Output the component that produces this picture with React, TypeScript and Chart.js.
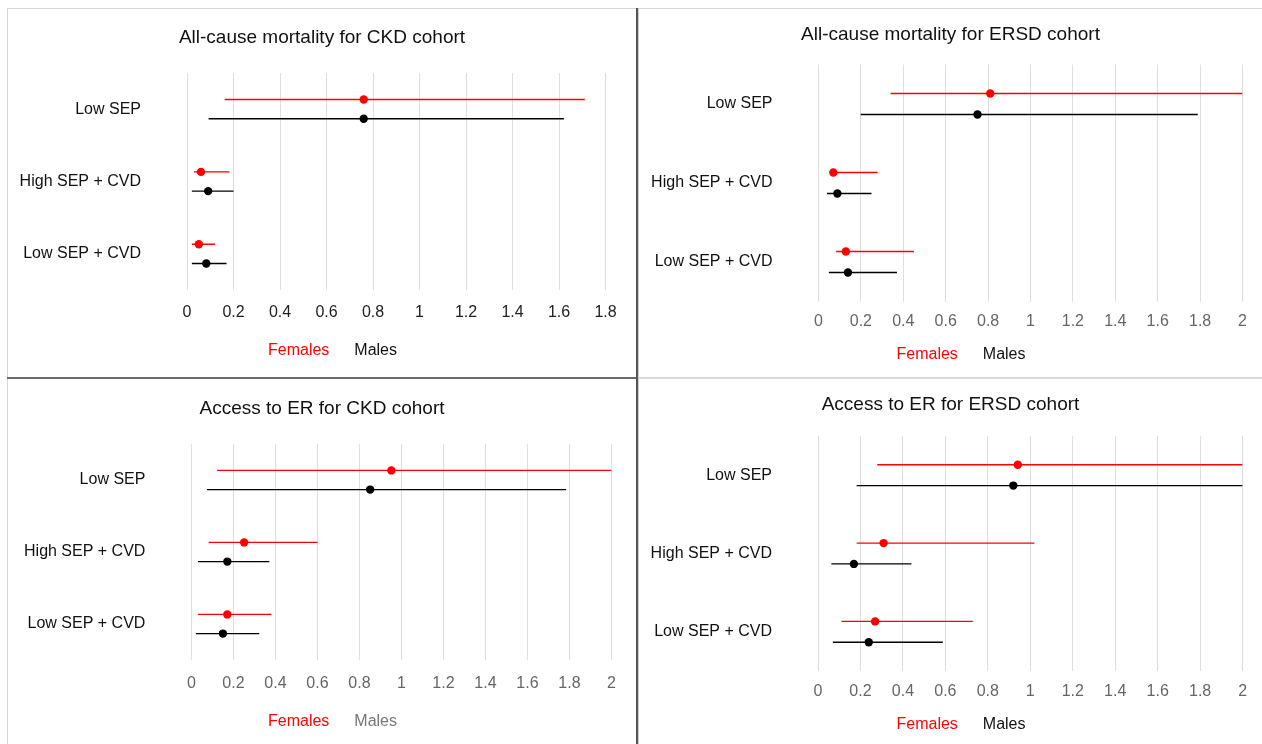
import React, { useEffect, useRef } from 'react';
import { Chart, registerables } from 'chart.js';

Chart.register(...registerables);

// ---------- data ----------
const CATEGORIES = ['Low SEP', 'High SEP + CVD', 'Low SEP + CVD'];
const SERIES_NAMES = ['Females', 'Males'];
const X_TICKS_18 = [0, 0.2, 0.4, 0.6, 0.8, 1, 1.2, 1.4, 1.6, 1.8];
const X_TICKS_20 = [0, 0.2, 0.4, 0.6, 0.8, 1, 1.2, 1.4, 1.6, 1.8, 2];

// All-cause mortality, CKD cohort
const MORT_CKD_F_EST = [0.76, 0.06, 0.051];
const MORT_CKD_F_LO = [0.162, 0.03, 0.021];
const MORT_CKD_F_HI = [1.711, 0.183, 0.121];
const MORT_CKD_M_EST = [0.76, 0.091, 0.083];
const MORT_CKD_M_LO = [0.093, 0.021, 0.021];
const MORT_CKD_M_HI = [1.621, 0.2, 0.17];

// All-cause mortality, ERSD cohort
const MORT_ERSD_F_EST = [0.81, 0.07, 0.129];
const MORT_ERSD_F_LO = [0.34, 0.055, 0.083];
const MORT_ERSD_F_HI = [2.0, 0.279, 0.45];
const MORT_ERSD_M_EST = [0.75, 0.089, 0.139];
const MORT_ERSD_M_LO = [0.199, 0.04, 0.049];
const MORT_ERSD_M_HI = [1.789, 0.25, 0.37];

// Access to ER, CKD cohort
const ER_CKD_F_EST = [0.952, 0.251, 0.171];
const ER_CKD_F_LO = [0.122, 0.082, 0.031];
const ER_CKD_F_HI = [2.0, 0.601, 0.381];
const ER_CKD_M_EST = [0.851, 0.171, 0.15];
const ER_CKD_M_LO = [0.074, 0.031, 0.021];
const ER_CKD_M_HI = [1.784, 0.371, 0.323];

// Access to ER, ERSD cohort
const ER_ERSD_F_EST = [0.941, 0.309, 0.269];
const ER_ERSD_F_LO = [0.279, 0.182, 0.11];
const ER_ERSD_F_HI = [2.0, 1.019, 0.729];
const ER_ERSD_M_EST = [0.92, 0.169, 0.239];
const ER_ERSD_M_LO = [0.182, 0.063, 0.07];
const ER_ERSD_M_HI = [2.0, 0.44, 0.588];

// ---------- styling / layout ----------
const FONT = "'Liberation Sans', Arial, Helvetica, sans-serif";
const FEMALE_COLOR = '#ff0000';
const MALE_COLOR = '#000000';
const DODGE = 0.133;
const LEGEND_PAD = 4;

type Panel = {
  title: string;
  xMax: number;
  xTicks: number[];
  f: { est: number[]; lo: number[]; hi: number[] };
  m: { est: number[]; lo: number[]; hi: number[] };
  tickColor: string;
  maleLegendColor: string;
  left: number; top: number; width: number;
  titleY: number; plotTop: number; plotBottom: number;
  plotLeft: number; plotRight: number; tickY: number; legendY: number;
};

const PANELS: Panel[] = [
  {
    title: 'All-cause mortality for CKD cohort', xMax: 1.8, xTicks: X_TICKS_18,
    f: { est: MORT_CKD_F_EST, lo: MORT_CKD_F_LO, hi: MORT_CKD_F_HI },
    m: { est: MORT_CKD_M_EST, lo: MORT_CKD_M_LO, hi: MORT_CKD_M_HI },
    tickColor: '#222222', maleLegendColor: '#111111',
    left: 8, top: 9, width: 628,
    titleY: 38, plotTop: 73, plotBottom: 290, plotLeft: 187, plotRight: 605.5, tickY: 312.5, legendY: 350.5,
  },
  {
    title: 'All-cause mortality for ERSD cohort', xMax: 2, xTicks: X_TICKS_20,
    f: { est: MORT_ERSD_F_EST, lo: MORT_ERSD_F_LO, hi: MORT_ERSD_F_HI },
    m: { est: MORT_ERSD_M_EST, lo: MORT_ERSD_M_LO, hi: MORT_ERSD_M_HI },
    tickColor: '#666666', maleLegendColor: '#111111',
    left: 639, top: 9, width: 623,
    titleY: 34.8, plotTop: 64.5, plotBottom: 301.5, plotLeft: 818.5, plotRight: 1242.5, tickY: 322, legendY: 354.5,
  },
  {
    title: 'Access to ER for CKD cohort', xMax: 2, xTicks: X_TICKS_20,
    f: { est: ER_CKD_F_EST, lo: ER_CKD_F_LO, hi: ER_CKD_F_HI },
    m: { est: ER_CKD_M_EST, lo: ER_CKD_M_LO, hi: ER_CKD_M_HI },
    tickColor: '#666666', maleLegendColor: '#777777',
    left: 8, top: 379, width: 628,
    titleY: 409, plotTop: 444, plotBottom: 660, plotLeft: 191.4, plotRight: 611.5, tickY: 683.5, legendY: 721.5,
  },
  {
    title: 'Access to ER for ERSD cohort', xMax: 2, xTicks: X_TICKS_20,
    f: { est: ER_ERSD_F_EST, lo: ER_ERSD_F_LO, hi: ER_ERSD_F_HI },
    m: { est: ER_ERSD_M_EST, lo: ER_ERSD_M_LO, hi: ER_ERSD_M_HI },
    tickColor: '#666666', maleLegendColor: '#111111',
    left: 639, top: 379, width: 623,
    titleY: 405, plotTop: 436, plotBottom: 671, plotLeft: 818, plotRight: 1242.6, tickY: 691.5, legendY: 725,
  },
];

function ForestPanel({ p }: { p: Panel }) {
  const ref = useRef<HTMLCanvasElement | null>(null);
  const height = Math.round(p.legendY - p.top + 18);

  useEffect(() => {
    const canvas = ref.current;
    if (!canvas) return;
    const titleLine = 19 * 1.2;
    const titlePadTop = p.titleY - p.top - titleLine / 2;
    const titlePadBottom = p.plotTop - p.top - titlePadTop - titleLine;
    const legendH = 16 + LEGEND_PAD + 10;
    const xAxisH = height - legendH - (p.plotBottom - p.top);
    const tickPad = p.tickY - p.plotBottom - 16 * 1.2 / 2;
    const yAxisW = p.plotLeft - p.left;
    const rightW = p.left + p.width - p.plotRight;

    const groups = [
      { s: p.f, color: FEMALE_COLOR, off: -DODGE },
      { s: p.m, color: MALE_COLOR, off: DODGE },
    ];
    const datasets: any[] = [];
    groups.forEach((g, gi) => {
      datasets.push({
        label: SERIES_NAMES[gi],
        data: g.s.est.map((v, i) => ({ x: v, y: i + g.off })),
        showLine: false,
        pointRadius: 4.2,
        pointHoverRadius: 4.2,
        backgroundColor: g.color,
        borderColor: g.color,
        borderWidth: 0,
        order: 0,
      });
    });
    groups.forEach((g, gi) => {
      g.s.lo.forEach((lo, i) => {
        datasets.push({
          label: SERIES_NAMES[gi] + ' CI ' + CATEGORIES[i],
          data: [
            { x: lo, y: i + g.off },
            { x: g.s.hi[i], y: i + g.off },
          ],
          showLine: true,
          pointRadius: 0,
          borderColor: g.color,
          borderWidth: 1.4,
          order: 1,
        });
      });
    });

    const legendColors = [FEMALE_COLOR, p.maleLegendColor];

    const chart = new Chart(canvas, {
      type: 'scatter',
      data: { datasets },
      options: {
        animation: false,
        responsive: false,
        events: [],
        layout: { padding: 0 },
        scales: {
          x: {
            type: 'linear',
            min: 0,
            max: p.xMax,
            afterBuildTicks: (s: any) => {
              s.ticks = p.xTicks.map((v) => ({ value: v }));
            },
            afterFit: (s: any) => {
              s.height = xAxisH;
              s.paddingLeft = 0;
              s.paddingRight = 0;
            },
            ticks: {
              autoSkip: false,
              maxRotation: 0,
              minRotation: 0,
              padding: tickPad,
              color: p.tickColor,
              font: { family: FONT, size: 16 },
              callback: (v: any) => String(+Number(v).toFixed(1)),
            },
            grid: { color: '#dedede', lineWidth: 1, drawTicks: false },
            border: { display: false },
          },
          y: {
            type: 'linear',
            position: 'left',
            min: -0.5,
            max: 2.5,
            reverse: true,
            afterBuildTicks: (s: any) => {
              s.ticks = CATEGORIES.map((_, i) => ({ value: i }));
            },
            afterFit: (s: any) => {
              s.width = yAxisW;
              s.paddingTop = 0;
              s.paddingBottom = 0;
            },
            ticks: {
              padding: 46,
              color: '#111111',
              font: { family: FONT, size: 16 },
              callback: (v: any) => CATEGORIES[Math.round(Number(v))] ?? '',
            },
            grid: { display: false, drawTicks: false },
            border: { display: false },
          },
          yRight: {
            type: 'linear',
            position: 'right',
            display: true,
            ticks: { display: false },
            grid: { display: false, drawTicks: false },
            border: { display: false },
            afterFit: (s: any) => {
              s.width = rightW;
              s.paddingTop = 0;
              s.paddingBottom = 0;
            },
          },
        },
        plugins: {
          tooltip: { enabled: false },
          title: {
            display: true,
            text: p.title,
            color: '#111111',
            font: { family: FONT, size: 19, weight: 'normal' },
            padding: { top: titlePadTop, bottom: titlePadBottom },
          },
          legend: {
            display: true,
            position: 'bottom',
            align: 'center',
            labels: {
              boxWidth: 13,
              boxHeight: 16,
              padding: LEGEND_PAD,
              font: { family: FONT, size: 16 },
              generateLabels: () =>
                SERIES_NAMES.map((t, i) => ({
                  text: t,
                  fontColor: legendColors[i],
                  fillStyle: 'rgba(0,0,0,0)',
                  strokeStyle: 'rgba(0,0,0,0)',
                  lineWidth: 0,
                  hidden: false,
                  datasetIndex: i,
                })),
            },
          },
        },
      } as any,
    });
    return () => chart.destroy();
  }, [p, height]);

  return (
    <canvas
      ref={ref}
      width={p.width}
      height={height}
      style={{
        position: 'absolute',
        left: p.left,
        top: p.top,
        width: p.width,
        height,
        display: 'block',
        zIndex: 1,
      }}
    />
  );
}

const line = (s: React.CSSProperties): React.CSSProperties => ({ position: 'absolute', zIndex: 2, ...s });

export default function App() {
  return (
    <div
      style={{
        position: 'absolute',
        left: 0,
        top: 0,
        width: 1262,
        height: 744,
        overflow: 'hidden',
        background: '#ffffff',
      }}
    >
      {PANELS.map((p, i) => (
        <ForestPanel key={i} p={p} />
      ))}
      {/* frame lines */}
      <div style={line({ left: 7, top: 8, width: 1255, height: 1, background: '#d6d6d6' })} />
      <div style={line({ left: 7, top: 8, width: 1, height: 736, background: '#d6d6d6' })} />
      <div style={line({ left: 7, top: 377, width: 629, height: 2, background: '#6a6a6a' })} />
      <div style={line({ left: 638, top: 377, width: 624, height: 2, background: '#dcdcdc' })} />
      <div style={line({ left: 636, top: 8, width: 2, height: 736, background: '#555555' })} />
      <div style={line({ left: 638, top: 8, width: 1, height: 736, background: '#d0d0d0' })} />
    </div>
  );
}
